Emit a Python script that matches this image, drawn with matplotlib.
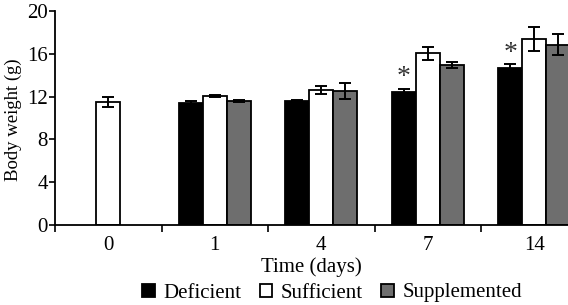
import matplotlib
matplotlib.use("Agg")
import matplotlib.pyplot as plt
import numpy as np

plt.rcParams['font.family'] = ['Liberation Serif', 'DejaVu Serif']

days = ['0', '1', '4', '7', '14']
deficient = [np.nan, 11.4, 11.55, 12.4, 14.65]
deficient_err = [0, 0.2, 0.1, 0.35, 0.4]
sufficient = [11.5, 12.05, 12.6, 16.05, 17.4]
sufficient_err = [0.5, 0.1, 0.35, 0.6, 1.15]
supplemented = [np.nan, 11.6, 12.5, 14.95, 16.85]
supplemented_err = [0, 0.1, 0.75, 0.25, 1.0]
star_days = ['7', '14']

fig = plt.figure(figsize=(5.68, 3.05), dpi=100)
ax = fig.add_axes([55/568, 80/305, 532.5/568, 214/305])

x = np.arange(len(days))
w = 0.225
ekw = dict(ecolor='black', elinewidth=1.4, capsize=4, capthick=1.4)

ax.bar(x - w, deficient, w, yerr=deficient_err, color='black', edgecolor='black',
       linewidth=1.3, error_kw=ekw, label='Deficient')
ax.bar(x, sufficient, w, yerr=sufficient_err, color='white', edgecolor='black',
       linewidth=1.3, error_kw=ekw, label='Sufficient')
ax.bar(x + w, supplemented, w, yerr=supplemented_err, color='#6e6e6e', edgecolor='black',
       linewidth=1.3, error_kw=ekw, label='Supplemented')

# significance stars above deficient bars
for d in star_days:
    i = days.index(d)
    ax.text(i - w, deficient[i] + deficient_err[i] + 1.0, '*', ha='center', va='center',
            fontsize=20, color='#333333')

ax.set_xlim(-0.5, 4.5)
ax.set_ylim(0, 20)
ax.set_yticks(np.arange(0, 21, 4))
ax.set_xticks(x)
ax.set_xticklabels(days)
ax.set_xticks(np.arange(-0.5, 4.6, 1), minor=True)
ax.tick_params(axis='x', which='major', length=0, labelsize=15, pad=8)
ax.tick_params(axis='x', which='minor', length=5, width=1.2, direction='out')
ax.tick_params(axis='y', length=4, width=1.2, labelsize=15, pad=1)
for s in ['top', 'right']:
    ax.spines[s].set_visible(False)
for s in ['left', 'bottom']:
    ax.spines[s].set_linewidth(1.3)

fig.text(13/568, 1 - 120/305, 'Body weight (g)', rotation=90, ha='center', va='center', fontsize=13.5)
fig.text(311/568, 1 - 267/305, 'Time (days)', ha='center', va='center', fontsize=15)

leg = fig.legend(loc='center', bbox_to_anchor=(332/568, 1 - 293/305), ncol=3, frameon=False,
                 fontsize=15, handlelength=0.6, handleheight=0.6, handletextpad=0.4,
                 columnspacing=0.9, borderpad=0)

fig.savefig('out.png', dpi=100)
